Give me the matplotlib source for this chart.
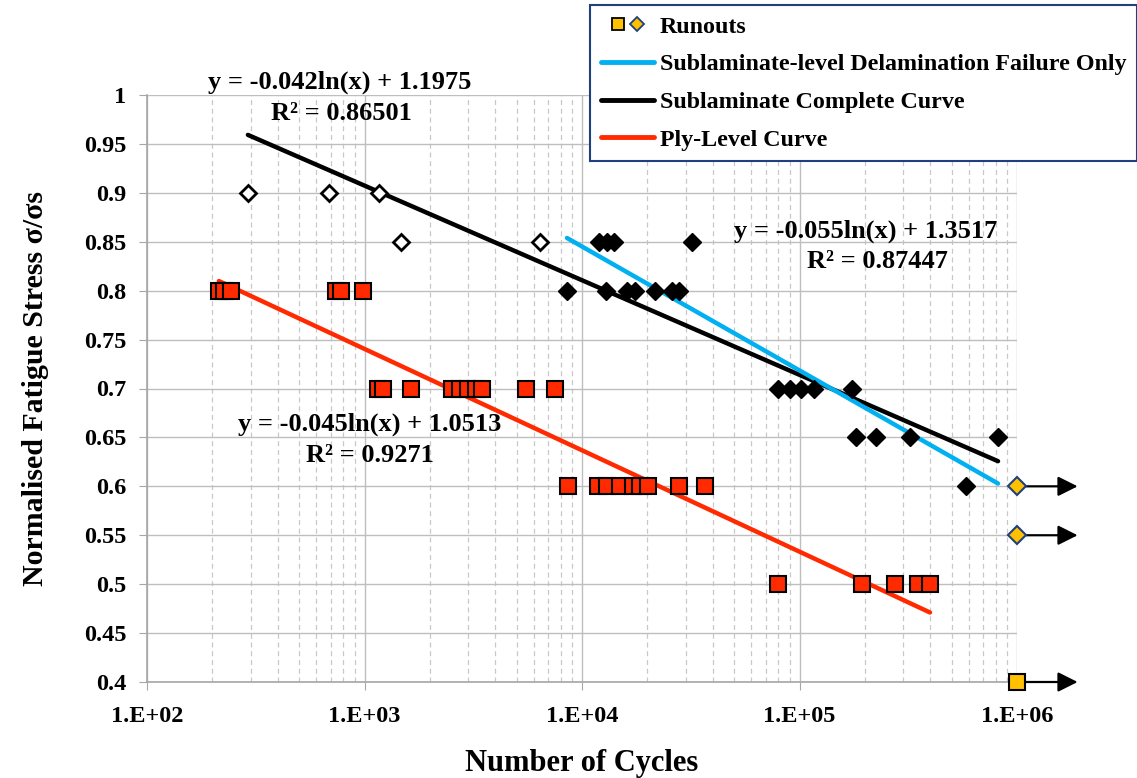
import matplotlib
matplotlib.use('Agg')
import matplotlib.pyplot as plt
import numpy as np
from matplotlib.lines import Line2D
from matplotlib.legend_handler import HandlerTuple
from matplotlib.ticker import LogLocator, FixedLocator, FuncFormatter

plt.rcParams['font.family'] = ['Liberation Serif', 'DejaVu Serif']
plt.rcParams['font.weight'] = 'bold'
plt.rcParams['axes.labelweight'] = 'bold'

# sublaminate, open diamonds
open_n = [291, 687, 1167, 1473, 6410]
open_s = [0.9, 0.9, 0.9, 0.85, 0.85]

# sublaminate, filled diamonds
sub_n = [11970, 13030, 14030, 32050,
         8530, 12890, 16100, 17540, 21680, 25940, 27930,
         79600, 90400, 101600, 116700, 174000,
         182000, 224700, 322000, 818000,
         583000]
sub_s = [0.85, 0.85, 0.85, 0.85,
         0.8, 0.8, 0.8, 0.8, 0.8, 0.8, 0.8,
         0.7, 0.7, 0.7, 0.7, 0.7,
         0.65, 0.65, 0.65, 0.65,
         0.6]

# ply-level, red squares
ply_n = [214, 226, 243, 740, 780, 984,
         1153, 1217, 1637, 2523, 2747, 2990, 3256, 3469, 5537, 7517,
         8630, 11860, 13040, 14960, 17150, 18480, 20100, 27930, 36800,
         79600, 193600, 274800, 350600, 398000]
ply_s = [0.8] * 6 + [0.7] * 10 + [0.6] * 9 + [0.5] * 5

# runouts
run_sq_n = [1e6]
run_sq_s = [0.4]
run_di_n = [1e6, 1e6]
run_di_s = [0.6, 0.55]

# trend lines: slope, intercept, x range
fit_black = (-0.042, 1.1975, 291, 818000)
fit_cyan = (-0.055, 1.3517, 8530, 818000)
fit_red = (-0.045, 1.0513, 214, 398000)

W, H = 1137, 778
fig = plt.figure(figsize=(W / 100, H / 100), dpi=100)
ax = fig.add_axes([147 / W, 1 - 682 / H, (1017 - 147) / W, (682 - 95) / H])

ax.set_xscale('log')
ax.set_xlim(1e2, 1e6)
ax.set_ylim(0.4, 1.0)

ax.xaxis.set_major_locator(FixedLocator([1e2, 1e3, 1e4, 1e5, 1e6]))
ax.xaxis.set_minor_locator(LogLocator(base=10, subs=np.arange(2, 10)))
ax.xaxis.set_major_formatter(FuncFormatter(lambda v, p: '1.E+%02d' % round(np.log10(v))))
ax.xaxis.set_minor_formatter(FuncFormatter(lambda v, p: ''))
ax.yaxis.set_major_locator(FixedLocator(np.round(np.arange(0.4, 1.001, 0.05), 2)))
ax.yaxis.set_major_formatter(FuncFormatter(lambda v, p: ('%.2f' % v).rstrip('0').rstrip('.')))

ax.grid(which='major', color='#BEBEBE', lw=1.0, ls='-')
ax.grid(which='minor', axis='x', color='#C8C8C8', lw=0.9, ls=(0, (4, 3)))
ax.set_axisbelow(True)
for s in ['top', 'right']:
    ax.spines[s].set_visible(False)
for s in ['left', 'bottom']:
    ax.spines[s].set_color('#A6A6A6')
    ax.spines[s].set_linewidth(1.2)
ax.tick_params(which='major', direction='out', length=6, color='#A6A6A6', labelsize=17.5)
ax.tick_params(axis='x', pad=11)
ax.tick_params(axis='y', pad=9)
ax.tick_params(which='minor', length=0)

for fit, c in [(fit_black, 'black'), (fit_cyan, '#00B0F0'), (fit_red, '#FF2A00')]:
    xs = np.logspace(np.log10(fit[2]), np.log10(fit[3]), 50)
    ax.plot(xs, fit[0] * np.log(xs) + fit[1], color=c, lw=3.2, solid_capstyle='round', zorder=3)

ax.plot(open_n, open_s, 'D', ms=8, mfc='white', mec='black', mew=2, ls='none', zorder=4)
ax.plot(sub_n, sub_s, 'D', ms=9, mfc='black', mec='black', ls='none', zorder=4)
ax.plot(ply_n, ply_s, 's', ms=11, mfc='#FF2A00', mec='black', mew=1.5, ls='none', zorder=4)

for n, s in zip(run_di_n + run_sq_n, run_di_s + run_sq_s):
    ax.annotate('', xy=(1.9e6, s), xytext=(n, s), xycoords='data', textcoords='data',
                annotation_clip=False,
                arrowprops=dict(arrowstyle='-|>', color='black', lw=1.6, mutation_scale=30,
                                shrinkA=0, shrinkB=0), zorder=4)
ax.plot(run_di_n, run_di_s, 'D', ms=9, mfc='#FFC000', mec='#1F3F7F', mew=1.5, ls='none',
        clip_on=False, zorder=5)
ax.plot(run_sq_n, run_sq_s, 's', ms=11, mfc='#FFC000', mec='black', mew=1.5, ls='none',
        clip_on=False, zorder=5)

ax.set_xlabel('Number of Cycles', fontsize=22, labelpad=16)
ax.set_ylabel('Normalised Fatigue Stress σ/σs', fontsize=21.5, labelpad=25)


def ftext(x, y, s):
    fig.text(x / W, 1 - y / H, s, ha='center', va='center', fontsize=19, fontweight='bold')


ftext(340, 82, 'y = -0.042ln(x) + 1.1975')
ftext(341, 113, 'R² = 0.86501')
ftext(866, 231, 'y = -0.055ln(x) + 1.3517')
ftext(877, 262, 'R² = 0.87447')
ftext(370, 424, 'y = -0.045ln(x) + 1.0513')
ftext(370, 456, 'R² = 0.9271')

h_run = (Line2D([], [], marker='s', ms=8, mfc='#FFC000', mec='black', mew=1.3, ls='none'),
         Line2D([], [], marker='D', ms=7, mfc='#FFC000', mec='#1F3F7F', mew=1.3, ls='none'))
h_cyan = Line2D([], [], color='#00B0F0', lw=3.5, solid_capstyle='round')
h_black = Line2D([], [], color='black', lw=3.5, solid_capstyle='round')
h_red = Line2D([], [], color='#FF2A00', lw=3.5, solid_capstyle='round')
leg = fig.legend([h_run, h_cyan, h_black, h_red],
                 ['Runouts', 'Sublaminate-level Delamination Failure Only',
                  'Sublaminate Complete Curve', 'Ply-Level Curve'],
                 handler_map={tuple: HandlerTuple(ndivide=None, pad=-0.6)},
                 loc='upper right', bbox_to_anchor=(1.0, 1 - 5 / H),
                 prop={'size': 17.3, 'weight': 'bold'}, frameon=True, fancybox=False,
                 edgecolor='#1F3F7F', framealpha=1, borderpad=0.45, labelspacing=0.66,
                 handlelength=2.2, handletextpad=0.25, borderaxespad=0)
leg.get_frame().set_linewidth(1.5)

fig.savefig('out.png', dpi=100)
